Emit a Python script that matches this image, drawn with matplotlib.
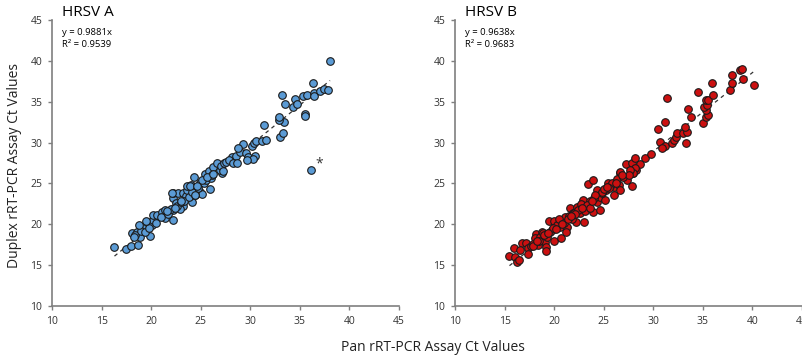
import numpy as np
import matplotlib
matplotlib.use("Agg")
import matplotlib.pyplot as plt

# HRSV A : pan assay Ct (x) vs duplex assay Ct (y)
a_x = [16.3, 17.5, 18.0, 18.7, 18.1, 18.6, 18.9, 18.4, 19.2, 19.6, 19.9, 20.1, 20.2, 20.2, 20.6,
       21.1, 21.4, 21.4, 22.2, 22.2, 22.2, 22.2, 22.7, 22.5, 23.2, 23.5, 23.6, 24.0, 24.3, 24.1,
       23.2, 22.9, 24.6, 24.9, 25.1, 25.9, 25.4, 27.1, 26.9, 24.9, 25.3, 18.3, 19.0, 19.4, 19.8,
       20.5, 21.0, 21.7, 22.0, 22.6, 23.0, 23.3, 23.8, 24.4, 24.7, 25.5, 25.8, 26.2, 26.6, 27.0,
       27.3, 27.6, 28.2, 28.6, 27.9, 28.3, 28.7, 29.0, 29.3, 28.8, 29.6, 29.8, 30.5, 30.3, 29.7,
       30.2, 30.4, 30.6, 31.2, 31.6, 31.4, 33.0, 33.3, 33.4, 32.9, 32.9, 35.5, 35.5, 33.2, 33.5,
       34.5, 34.3, 34.7, 35.3, 35.7, 36.4, 36.4, 37.0, 37.4, 37.8, 36.3, 38.05, 36.1, 22.1, 23.6,
       24.1, 24.4, 25.1, 26.0, 23.9, 24.6, 26.1, 25.6, 26.2, 27.2, 19.5, 18.8, 21.6, 22.4, 23.0]
a_y = [17.2, 17.0, 17.3, 17.5, 18.9, 19.0, 18.4, 18.7, 19.7, 20.3, 18.6, 19.9, 20.5, 21.1, 21.1,
       21.5, 20.8, 21.8, 21.7, 20.5, 23.2, 23.8, 23.8, 22.6, 23.8, 23.5, 24.2, 24.8, 25.8, 22.7,
       22.2, 21.9, 23.8, 24.0, 23.7, 24.3, 26.2, 26.3, 26.7, 25.0, 25.1, 18.5, 19.2, 19.0, 19.6,
       20.2, 20.9, 21.2, 21.9, 22.3, 22.7, 22.9, 23.3, 23.6, 24.4, 25.4, 26.5, 27.0, 27.5, 27.1,
       27.5, 27.6, 28.2, 28.4, 27.9, 27.5, 27.5, 28.9, 29.8, 29.3, 28.7, 28.2, 28.3, 28.0, 27.9,
       29.6, 29.9, 30.2, 30.2, 30.3, 32.1, 30.7, 31.2, 32.5, 32.8, 33.1, 33.5, 33.2, 35.8, 34.7,
       35.3, 34.4, 34.7, 35.7, 35.8, 36.1, 35.7, 36.3, 36.6, 36.4, 37.3, 40.0, 26.6, 23.8, 24.7,
       24.0, 23.6, 25.4, 25.7, 24.7, 24.7, 26.0, 25.8, 26.2, 26.5, 20.4, 19.9, 21.6, 22.0, 22.9]

# HRSV B
b_x = [15.5, 16.0, 16.1, 16.3, 16.5, 16.8, 17.2, 17.4, 17.7, 17.4, 18.2, 18.1, 18.4, 18.8, 18.6,
       19.1, 19.2, 19.2, 19.5, 19.3, 19.8, 20.0, 20.0, 20.6, 20.9, 21.1, 20.7, 21.3, 21.2, 21.6,
       21.9, 22.2, 22.6, 22.3, 22.9, 23.1, 23.0, 22.9, 23.4, 23.9, 24.3, 24.3, 23.9, 24.6, 24.6,
       25.1, 25.4, 25.2, 26.0, 26.0, 26.5, 26.7, 26.7, 27.4, 27.9, 28.0, 28.3, 26.7, 27.3, 27.9,
       28.7, 28.2, 28.0, 27.7, 28.2, 29.2, 29.8, 30.5, 30.7, 31.2, 30.9, 31.9, 31.4, 31.2, 32.1,
       32.3, 32.4, 33.0, 33.3, 33.4, 33.2, 33.5, 33.8, 35.0, 35.3, 35.5, 35.3, 35.1, 35.4, 35.3,
       35.5, 36.0, 34.5, 35.9, 37.7, 38.0, 38.0, 38.8, 39.0, 39.1, 40.2, 17.9, 18.9, 19.6, 20.3,
       20.5, 21.5, 21.8, 22.0, 22.4, 23.6, 24.0, 24.8, 25.6, 25.8, 26.3, 27.0, 18.5, 19.9, 21.0,
       22.7, 23.3, 24.8, 25.5, 26.2, 27.6, 16.6, 17.9, 19.0, 20.2, 21.4, 22.1, 23.6, 24.1, 25.0,
       18.3, 19.4, 20.8, 21.7, 22.8, 23.8, 25.3, 26.9]
b_y = [16.1, 17.1, 16.0, 15.4, 15.6, 17.7, 17.7, 17.1, 17.3, 16.4, 18.8, 18.3, 17.5, 19.1, 18.4,
       17.8, 17.2, 16.7, 20.4, 18.4, 19.3, 20.4, 18.0, 19.7, 20.3, 20.9, 18.3, 19.7, 19.1, 22.0,
       21.4, 20.3, 21.4, 22.1, 22.1, 21.6, 20.3, 23.0, 24.9, 25.4, 24.2, 22.7, 21.5, 21.7, 23.4,
       23.0, 25.0, 24.2, 23.6, 24.6, 24.8, 24.2, 26.3, 25.4, 24.7, 26.3, 26.6, 26.4, 27.4, 27.5,
       27.4, 26.9, 26.3, 26.7, 28.1, 28.1, 28.6, 31.7, 30.1, 29.6, 29.3, 29.9, 35.4, 32.5, 30.3,
       30.7, 31.2, 31.2, 29.9, 31.3, 31.9, 34.1, 33.1, 32.4, 33.1, 33.4, 34.0, 34.3, 34.6, 35.2,
       35.2, 35.8, 36.2, 37.3, 36.4, 37.3, 38.3, 38.9, 39.0, 37.8, 37.0, 17.6, 18.9, 19.0, 19.9,
       20.7, 21.0, 20.6, 21.4, 21.8, 22.9, 23.2, 23.8, 24.7, 25.1, 25.6, 25.8, 18.0, 19.5, 20.2,
       22.5, 22.4, 24.0, 24.4, 25.0, 26.0, 16.9, 17.4, 18.7, 19.4, 20.6, 21.2, 22.0, 23.6, 24.3,
       17.9, 18.9, 20.0, 21.0, 22.0, 22.9, 24.6, 26.0]

panels = [("HRSV A", a_x, a_y, 0.9881, 0.9539, "#5B9BD5"),
          ("HRSV B", b_x, b_y, 0.9638, 0.9683, "#CC1010")]
ticks = [10, 15, 20, 25, 30, 35, 40, 45]

plt.rcParams['font.family'] = ['Open Sans', 'DejaVu Sans']
fig = plt.figure(figsize=(8.03, 3.56), dpi=100)
lefts = [0.0648, 0.5666]

for i, (name, xs, ys, slope, r2, col) in enumerate(panels):
    ax = fig.add_axes([lefts[i], 0.1404, 0.432, 0.8034])
    ax.scatter(xs, ys, s=30, c=col, edgecolors='#1a1a1a', linewidths=0.8, zorder=3)
    xl = np.array([min(xs), max(xs)])
    ax.plot(xl, slope * xl, ls=(0, (3, 3)), color='#333333', lw=0.9, zorder=2)
    ax.set_xlim(10, 45)
    ax.set_ylim(10, 45)
    ax.set_xticks(ticks)
    ax.set_yticks(ticks)
    for s in ['top', 'right']:
        ax.spines[s].set_visible(False)
    for s in ['left', 'bottom']:
        ax.spines[s].set_color('#7f7f7f')
        ax.spines[s].set_linewidth(1.2)
    ax.tick_params(direction='out', length=3, width=1, color='#7f7f7f',
                   labelsize=7.5, labelcolor='#333333', pad=4)
    ax.text(0.03, 1.025, name, transform=ax.transAxes, fontsize=11, va='center', ha='left')
    ax.text(0.03, 0.955, "y = %.4fx" % slope, transform=ax.transAxes, fontsize=6.8, va='center')
    ax.text(0.03, 0.913, "R² = %.4f" % r2, transform=ax.transAxes, fontsize=6.8, va='center')
    if i == 0:
        ax.text(37.0, 27.4, "*", fontsize=10, ha='center', va='center', color='#333333')

fig.text(0.018, 0.535, "Duplex rRT-PCR Assay Ct Values", rotation=90, ha='center', va='center',
         fontsize=10, color='#222222')
fig.text(0.539, 0.025, "Pan rRT-PCR Assay Ct Values", ha='center', va='center',
         fontsize=10, color='#222222')

plt.savefig("out.png", dpi=100)
